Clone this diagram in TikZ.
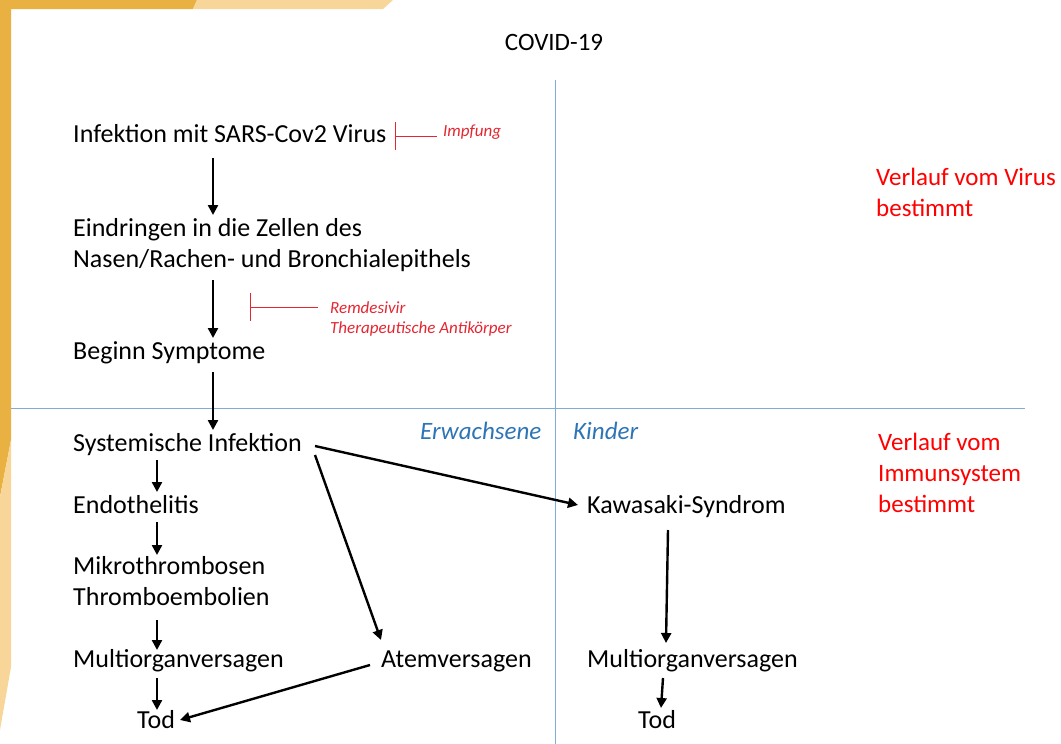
\documentclass[tikz,border=0pt]{standalone}
\usepackage{fontspec}
\setmainfont{Carlito}
\usetikzlibrary{arrows.meta,positioning}
\definecolor{darkorange}{RGB}{233,176,66}
\definecolor{lightorange}{RGB}{248,214,153}
\definecolor{divblue}{RGB}{130,172,214}
\definecolor{kidblue}{RGB}{46,117,182}
\definecolor{softred}{RGB}{228,38,48}

\begin{document}
\begin{tikzpicture}[x=1pt,y=-1pt,
  txt/.style={inner sep=0pt,anchor=base west,font=\fontsize{26}{31}\selectfont},
  note/.style={inner sep=0pt,anchor=base west,text=softred,font=\fontsize{17}{20}\selectfont\itshape},
  side/.style={txt,text=kidblue,font=\fontsize{25}{30}\selectfont\itshape},
  verlauf/.style={txt,text=red,font=\fontsize{25}{30}\selectfont},
  arr/.style={line width=2.4pt,-{Triangle[length=10pt,width=10pt]}},
  inh/.style={softred,line width=0.9pt,{Bar[width=28pt]}-},
  divider/.style={divblue,line width=1pt}]
  \useasboundingbox (0,0) rectangle (1061,744);
  % slide decoration
  \fill[darkorange] (0,0) -- (197,0) -- (193,9) -- (11,9) -- (11,440) -- (0,497) -- cycle;
  \fill[lightorange] (197,0) -- (393,0) -- (383,9) -- (193,9) -- cycle;
  \fill[lightorange] (11,440) -- (11,667) -- (0,730) -- (0,497) -- cycle;
  % quadrants
  \draw[divider] (555,80) -- (555,744);
  \draw[divider] (11,408) -- (1025,408);

  \node[txt,anchor=base,font=\fontsize{25}{30}\selectfont] (title) at (554,50) {COVID-19};

  % course of the virus
  \node[txt] (inf) at (73,142) {Infektion mit SARS-Cov2 Virus};
  \node[txt] (ein) at (73,236) {Eindringen in die Zellen des};
  \node[txt] (einb) at (73,267) {Nasen/Rachen- und Bronchialepithels};
  \node[txt] (beg) at (73,359) {Beginn Symptome};
  \node[note] (imp) at (443,136) {Impfung};
  \node[note] (rem) at (330,313) {Remdesivir};
  \node[note] (remb) at (330,333) {Therapeutische Antikörper};
  \coordinate (impbar) at (395,136);
  \coordinate (rembar) at (250,307);

  % adults
  \node[txt] (sys) at (73,451) {Systemische Infektion};
  \node[txt] (endo) at (73,513) {Endothelitis};
  \node[txt] (mik) at (73,574) {Mikrothrombosen};
  \node[txt] (mikb) at (73,605) {Thromboembolien};
  \node[txt] (mul) at (73,667) {Multiorganversagen};
  \node[txt] (tod) at (137,728) {Tod};
  \node[txt] (atem) at (381,667) {Atemversagen};

  % children
  \node[txt] (kaw) at (587,513) {Kawasaki-Syndrom};
  \node[txt] (mor) at (587,667) {Multiorganversagen};
  \node[txt] (tod2) at (638,728) {Tod};

  \node[side] (erw) at (420,439) {Erwachsene};
  \node[side] (kin) at (573,439) {Kinder};

  \node[verlauf] (vv) at (876,185) {Verlauf vom Virus};
  \node[verlauf] (vvb) at (876,216) {bestimmt};
  \node[verlauf] (vi) at (878,450) {Verlauf vom};
  \node[verlauf] (vib) at (878,481) {Immunsystem};
  \node[verlauf] (vic) at (878,512) {bestimmt};

  % arrows
  \draw[arr] ([shift={(140,16)}]inf.base west) -- ([shift={(140,-21)}]ein.base west);
  \draw[arr] ([shift={(140,13)}]einb.base west) -- ([shift={(140,-21)}]beg.base west);
  \draw[arr] ([shift={(140,13)}]beg.base west) -- ([shift={(140,-21)}]sys.base west);
  \draw[arr] ([shift={(84,9)}]sys.base west) -- ([shift={(84,-21)}]endo.base west);
  \draw[arr] ([shift={(84,9)}]endo.base west) -- ([shift={(84,-19)}]mik.base west);
  \draw[arr] ([shift={(84,15)}]mikb.base west) -- ([shift={(84,-17)}]mul.base west);
  \draw[arr] ([shift={(84,11)}]mul.base west) -- ([shift={(20,-18)}]tod.base west);
  \draw[arr] ([shift={(242,-5)}]sys.base west) -- ([shift={(-9,-8)}]kaw.base west);
  \draw[arr] ([shift={(242,4)}]sys.base west) -- ([shift={(0,-27)}]atem.base west);
  \draw[arr] ([shift={(-11,-2)}]atem.base west) -- ([shift={(43,-8)}]tod.base west);
  \draw[arr] ([shift={(81,17)}]kaw.base west) -- ([shift={(79,-24)}]mor.base west);
  \draw[arr] ([shift={(76,11)}]mor.base west) -- ([shift={(23,-20)}]tod2.base west);

  % inhibitors
  \draw[inh] (impbar) -- ([shift={(-6,0)}]imp.base west);
  \draw[inh] (rembar) -- ([shift={(-12,-6)}]rem.base west);
\end{tikzpicture}
\end{document}
